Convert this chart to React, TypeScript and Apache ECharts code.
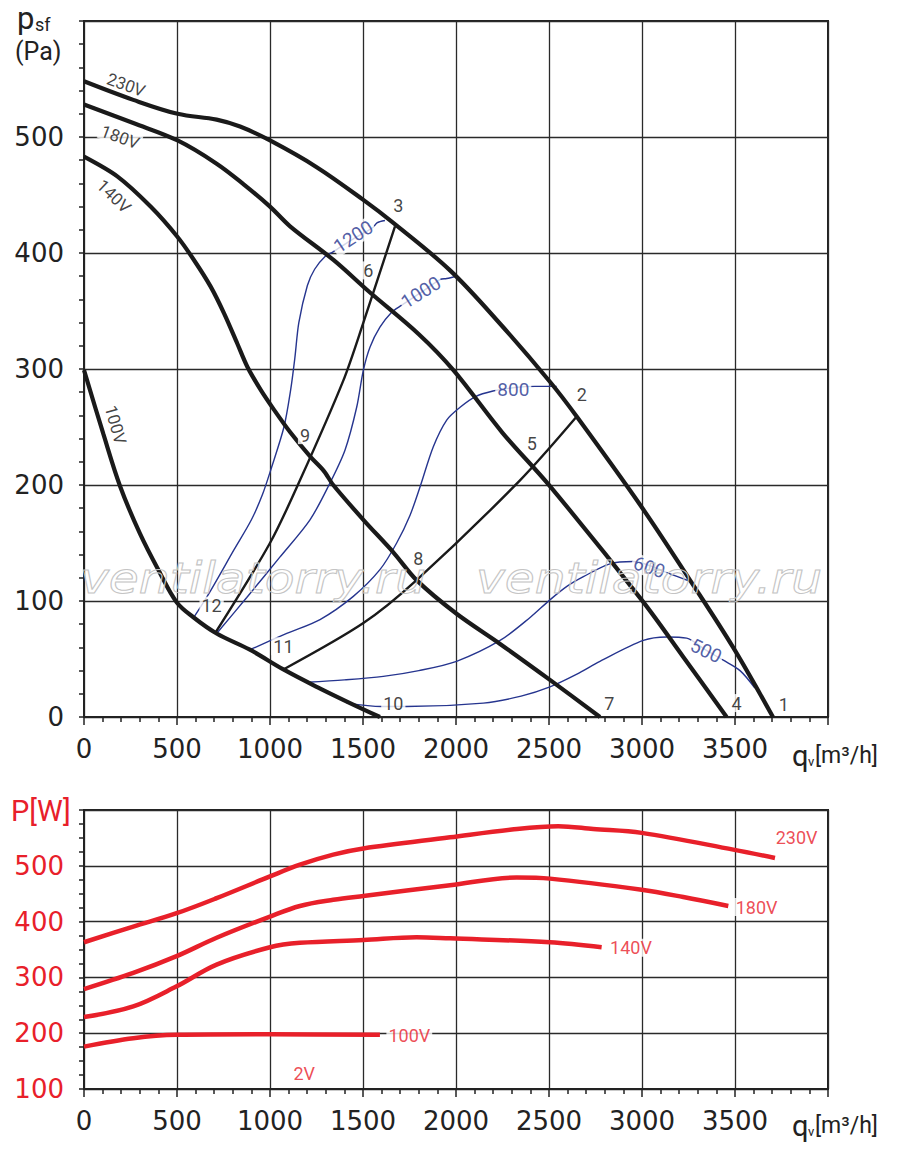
import React, { useEffect, useRef } from 'react';
import * as echarts from 'echarts';

// ---------- pressure curves p_sf [Pa] vs q_v [m3/h] ----------
const fan230: number[][] = [[0,548],[265,532],[503,520],[713,515],[839,509],[1000,497],[1251,474],[1500,446],[1663,426],[1968,385],[2237,339],[2505,289],[2649,259],[2998,181],[3258,118],[3490,60],[3704,0]];
const fan180: number[][] = [[0,528],[265,512],[503,497],[713,477],[860,459],[1000,440],[1108,423],[1341,394],[1530,367],[1800,330],[1986,299],[2250,245],[2505,199],[2998,101],[3221,52],[3455,0]];
const fan140: number[][] = [[0,483],[179,466],[358,440],[502,414],[591,394],[681,371],[753,348],[824,322],[878,302],[950,282],[1021,265],[1111,245],[1219,224],[1290,212],[1340,200],[1502,170],[1663,142],[1788,118],[2003,89],[2237,63],[2505,32],[2774,0]];
const fan100: number[][] = [[0,299],[104,244],[194,199],[301,158],[409,124],[498,99],[588,86],[713,72],[892,58],[1072,41],[1251,26],[1430,12],[1591,0]];

// system curves (operating points 3-6-9-12 and 2-5-8-11)
const sysA: number[][] = [[704,72],[1000,150],[1161,204],[1394,290],[1502,340],[1672,423]];
const sysB: number[][] = [[1072,41],[1502,81],[1788,118],[2344,204],[2649,259]];

// blue curves
const blue1200: number[][] = [[591,86],[681,109],[806,144],[900,170],[960,192],[1004,213],[1075,250],[1111,282],[1134,310],[1155,340],[1201,372],[1240,386],[1296,397],[1339,401],[1446,412],[1554,422],[1575,426],[1618,428]];
const blue1000: number[][] = [[713,72],[875,103],[1054,138],[1215,170],[1317,200],[1403,230],[1466,267],[1502,299],[1538,319],[1591,336],[1654,349],[1708,355],[1812,366],[1914,377],[1950,378],[2003,380]];
const blue800: number[][] = [[892,58],[1090,72],[1269,84],[1448,104],[1591,127],[1681,150],[1753,174],[1806,198],[1878,233],[1950,256],[2022,267],[2102,276],[2199,281],[2317,284],[2425,285],[2541,285]];
const blue600: number[][] = [[1197,30],[1400,32],[1609,35],[1800,40],[2003,48],[2237,66],[2400,86],[2505,101],[2600,113],[2685,121],[2828,132],[2953,134],[3050,130],[3141,124],[3258,117]];
const blue500: number[][] = [[1412,12],[1600,9],[1734,9],[2147,12],[2350,18],[2505,26],[2650,37],[2774,48],[3007,66],[3132,69],[3240,68],[3340,58],[3437,49],[3527,40],[3607,25]];

// ---------- power curves P [W] vs q_v ----------
const pow230: number[][] = [[0,363],[265,391],[498,415],[713,442],[1000,481],[1161,502],[1340,520],[1502,531],[1968,551],[2300,565],[2550,571],[2738,566],[2998,559],[3491,529],[3715,514]];
const pow180: number[][] = [[0,279],[265,308],[498,338],[713,371],[1000,409],[1161,428],[1340,439],[1502,446],[1968,465],[2326,479],[2505,477],[2998,457],[3222,444],[3464,428]];
const pow140: number[][] = [[0,229],[265,248],[498,284],[713,323],[1000,354],[1161,362],[1502,367],[1788,372],[1968,370],[2505,363],[2783,354]];
const pow100: number[][] = [[0,176],[265,191],[498,197],[1000,198],[1591,197]];

// ---------- labels: [q, value, text, rotate] ----------
const pointLabels: (number | string)[][] = [
  [3763,11,'1',0],[2676,278,'2',0],[1690,441,'3',0],[3509,12,'4',0],[2407,236,'5',0],[1529,385,'6',0],
  [2824,12,'7',0],[1797,137,'8',0],[1188,243,'9',0],[1663,12,'10',0],[1072,61,'11',0],[686,96,'12',0],
];
const voltLabels: (number | string)[][] = [
  [226,545,'230V',-20],[194,500,'180V',-20],[161,449,'140V',-44],[170,252,'100V',-74],
];
const blueLabels: (number | string)[][] = [
  [1448,414,'1200',33],[1812,366,'1000',32],[2308,282,'800',0],[3039,129,'600',-18],[3344,57,'500',-26],
];
const powerLabels: (number | string)[][] = [
  [3831,550,'230V',0],[3616,426,'180V',0],[2941,353,'140V',0],[1749,196,'100V',0],[1184,127,'2V',0],
];

const FONT = 'Roboto';
const TICKFONT = 'DejaVu Sans';
const BLACK = '#1a1a1a';
const BLUE = '#26358f';
const RED = '#e8202a';

function xAxisCfg(gi: number) {
  return {
    type: 'value', gridIndex: gi, min: 0, max: 4000, interval: 500,
    axisLine: { show: true, onZero: false, lineStyle: { color: '#222', width: 2 } },
    axisTick: { show: true, length: 8, lineStyle: { color: '#222', width: 1.5 } },
    minorTick: { show: true, splitNumber: 5, length: 5, lineStyle: { color: '#222', width: 1.5 } },
    splitLine: { show: true, lineStyle: { color: '#2a2a2a', width: 1.3 } },
    axisLabel: {
      fontSize: 26, fontFamily: TICKFONT, color: '#222', margin: 19,
      formatter: (v: number) => (v === 4000 ? '' : String(v)),
    },
  };
}

function yAxisCfg(gi: number, min: number, split: number, color: string) {
  return {
    type: 'value', gridIndex: gi, min, max: 600, interval: 100,
    axisLine: { show: true, onZero: false, lineStyle: { color: '#222', width: 2 } },
    axisTick: { show: true, length: 5, lineStyle: { color: '#222', width: 1.5 } },
    minorTick: { show: true, splitNumber: split, length: 5, lineStyle: { color: '#222', width: 1.5 } },
    splitLine: { show: true, lineStyle: { color: '#2a2a2a', width: 1.3 } },
    axisLabel: {
      fontSize: 26, fontFamily: TICKFONT, color, margin: 20,
      formatter: (v: number) => (v === 600 ? '' : String(v)),
    },
  };
}

function curve(data: number[][], gi: number, color: string, width: number, smooth = 0.35) {
  return {
    type: 'line', xAxisIndex: gi, yAxisIndex: gi, data, smooth, symbol: 'none',
    lineStyle: { color, width }, silent: true, z: 3,
  };
}

function labels(arr: (number | string)[][], gi: number, color: string, fontSize: number) {
  return {
    type: 'scatter', xAxisIndex: gi, yAxisIndex: gi, symbolSize: 1, silent: true, z: 6,
    itemStyle: { color: 'rgba(0,0,0,0)' },
    data: arr.map(([q, v, t, r]) => ({ value: [q, v], name: t as string, label: { rotate: r as number } })),
    label: {
      show: true, position: 'inside', formatter: '{b}', color, fontSize, fontFamily: FONT,
      backgroundColor: '#ffffff', padding: [0, 2],
    },
  };
}

export default function App() {
  const ref = useRef<HTMLDivElement>(null);
  useEffect(() => {
    if (!ref.current) return;
    const chart = echarts.init(ref.current, undefined, { renderer: 'svg' });
    const wm = (x: number) => ({
      type: 'text', x, y: 579, z: 100, silent: true, scaleX: 1.16,
      style: {
        text: 'ventilatorry.ru', fontSize: 42, fontStyle: 'italic', fontFamily: 'DejaVu Sans',
        fill: 'rgba(0,0,0,0)', stroke: '#c4c4c4', lineWidth: 1, verticalAlign: 'middle',
      },
    });
    chart.setOption({
      animation: false,
      backgroundColor: '#ffffff',
      grid: [
        { left: 84, top: 21, width: 744, height: 696, show: true, borderColor: '#222', borderWidth: 2 },
        { left: 84, top: 810, width: 744, height: 279, show: true, borderColor: '#222', borderWidth: 2 },
      ],
      xAxis: [xAxisCfg(0), xAxisCfg(1)],
      yAxis: [yAxisCfg(0, 0, 5, '#222'), yAxisCfg(1, 100, 4, RED)],
      graphic: [
        { type: 'text', x: 17, y: 3, style: { text: 'p', fontSize: 31, fontFamily: FONT, fill: '#222' } },
        { type: 'text', x: 35, y: 15, style: { text: 'sf', fontSize: 18, fontFamily: FONT, fill: '#222' } },
        { type: 'text', x: 15, y: 39, style: { text: '(Pa)', fontSize: 25, fontFamily: FONT, fill: '#222' } },
        { type: 'text', x: 792, y: 741, style: { text: 'q', fontSize: 29, fontFamily: FONT, fill: '#222' } },
        { type: 'text', x: 808, y: 755, style: { text: 'v', fontSize: 13, fontFamily: FONT, fill: '#222' } },
        { type: 'text', x: 815, y: 744, style: { text: '[m³/h]', fontSize: 23, fontFamily: FONT, fill: '#222' } },
        { type: 'text', x: 792, y: 1111, style: { text: 'q', fontSize: 29, fontFamily: FONT, fill: '#222' } },
        { type: 'text', x: 808, y: 1125, style: { text: 'v', fontSize: 13, fontFamily: FONT, fill: '#222' } },
        { type: 'text', x: 815, y: 1114, style: { text: '[m³/h]', fontSize: 23, fontFamily: FONT, fill: '#222' } },
        { type: 'text', x: 11, y: 796, style: { text: 'P[W]', fontSize: 29, fontFamily: FONT, fill: RED } },
        wm(80),
        wm(476),
      ],
      series: [
        curve(blue1200, 0, BLUE, 1.4, 0.3),
        curve(blue1000, 0, BLUE, 1.4, 0.3),
        curve(blue800, 0, BLUE, 1.4, 0.3),
        curve(blue600, 0, BLUE, 1.4, 0.3),
        curve(blue500, 0, BLUE, 1.4, 0.3),
        curve(sysA, 0, BLACK, 2.4, 0.3),
        curve(sysB, 0, BLACK, 2.4, 0.3),
        curve(fan230, 0, BLACK, 4.2),
        curve(fan180, 0, BLACK, 4.2),
        curve(fan140, 0, BLACK, 4.2, 0.3),
        curve(fan100, 0, BLACK, 4.2),
        labels(pointLabels, 0, '#111111', 18),
        labels(voltLabels, 0, '#111111', 17),
        labels(blueLabels, 0, BLUE, 19),
        curve(pow230, 1, RED, 4.5),
        curve(pow180, 1, RED, 4.5),
        curve(pow140, 1, RED, 4.5),
        curve(pow100, 1, RED, 4.5),
        labels(powerLabels, 1, RED, 18),
      ],
    });
    return () => chart.dispose();
  }, []);
  return <div ref={ref} style={{ position: 'absolute', left: 0, top: 0, width: 900, height: 1159 }} />;
}
